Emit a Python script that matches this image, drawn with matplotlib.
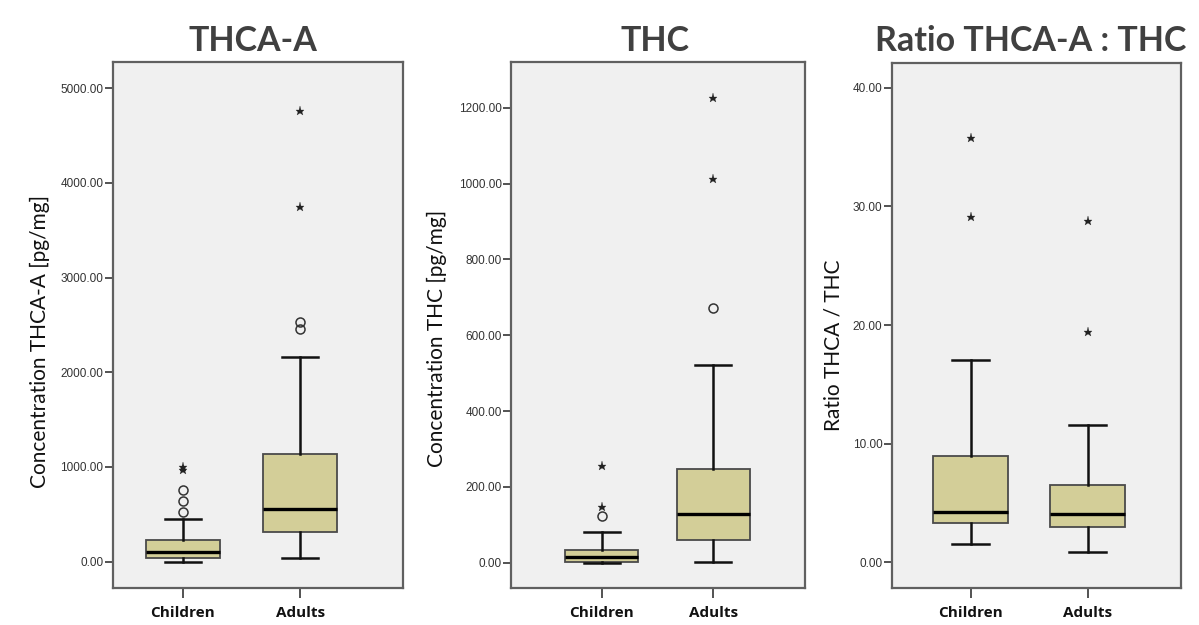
import matplotlib.pyplot as plt
from matplotlib.ticker import FormatStrFormatter

groups = ['Children', 'Adults']

# THCA-A [pg/mg]
thca_lo = [0, 43]
thca_q1 = [36, 314]
thca_med = [99, 556]
thca_q3 = [229, 1134]
thca_hi = [448, 2165]
thca_circles = [[528, 644, 757], [2454, 2535]]
thca_stars = [[965, 1003], [3746, 4760]]

# THC [pg/mg]
thc_lo = [0, 1]
thc_q1 = [1, 59]
thc_med = [14, 128]
thc_q3 = [34, 247]
thc_hi = [81, 522]
thc_circles = [[124], [671]]
thc_stars = [[146, 256], [1012, 1227]]

# Ratio THCA-A / THC
ratio_lo = [1.52, 0.9]
ratio_q1 = [3.29, 3.0]
ratio_med = [4.27, 4.1]
ratio_q3 = [8.94, 6.5]
ratio_hi = [17.07, 11.56]
ratio_circles = [[], []]
ratio_stars = [[29.1, 35.8], [19.4, 28.8]]

titles = ['THCA-A', 'THC', 'Ratio THCA-A : THC']
ylabels = ['Concentration THCA-A [pg/mg]', 'Concentration THC [pg/mg]', 'Ratio THCA / THC']

BOX = '#d3ce98'
BG = '#f0f0f0'

fig = plt.figure(figsize=(11.99, 6.25), dpi=100)

panels = [
    dict(pos=[0.0942, 0.0592, 0.2419, 0.8416], xlim=(0.403, 2.878), ylim=(-278, 5277),
         ticks=[0, 1000, 2000, 3000, 4000, 5000], width=0.63,
         d=(thca_lo, thca_q1, thca_med, thca_q3, thca_hi, thca_circles, thca_stars),
         title_x=253, ylab=(40, 341)),
    dict(pos=[0.4266, 0.0592, 0.2448, 0.8416], xlim=(0.192, 2.822), ylim=(-66.8, 1321),
         ticks=[0, 200, 400, 600, 800, 1000, 1200], width=0.654,
         d=(thc_lo, thc_q1, thc_med, thc_q3, thc_hi, thc_circles, thc_stars),
         title_x=655, ylab=(437, 338)),
    dict(pos=[0.7440, 0.0592, 0.2410, 0.8400], xlim=(0.328, 2.798), ylim=(-2.17, 42.1),
         ticks=[0, 10, 20, 30, 40], width=0.64,
         d=(ratio_lo, ratio_q1, ratio_med, ratio_q3, ratio_hi, ratio_circles, ratio_stars),
         title_x=1031, ylab=(833, 345)),
]

for i, p in enumerate(panels):
    ax = fig.add_axes(p['pos'])
    ax.set_facecolor(BG)
    lo, q1, med, q3, hi, circ, stars = p['d']
    stats = []
    for j, g in enumerate(groups):
        stats.append(dict(label=g, whislo=lo[j], q1=q1[j], med=med[j], q3=q3[j], whishi=hi[j]))
    ax.bxp(stats, positions=[1, 2], widths=p['width'], showfliers=False, patch_artist=True,
           boxprops=dict(facecolor=BOX, edgecolor='#4a4a4a', linewidth=1.3),
           medianprops=dict(color='black', linewidth=2.4),
           whiskerprops=dict(color='#111111', linewidth=1.8),
           capprops=dict(color='#111111', linewidth=1.8),
           capwidths=p['width'] * 0.49)
    for j in range(2):
        if circ[j]:
            ax.plot([j + 1] * len(circ[j]), circ[j], 'o', mfc='none', mec='#333333',
                    ms=6.5, mew=1.1, zorder=4)
        ax.plot([j + 1] * len(stars[j]), stars[j], '*', color='#222222', ms=6.5, mew=0.2, zorder=4)
    ax.set_xlim(*p['xlim'])
    ax.set_ylim(*p['ylim'])
    ax.set_yticks(p['ticks'])
    ax.yaxis.set_major_formatter(FormatStrFormatter('%.2f'))
    ax.set_xticks([1, 2])
    ax.set_xticklabels(groups, fontfamily='Open Sans', fontweight='bold', fontsize=11)
    ax.tick_params(axis='y', direction='out', length=6, width=1.3, color='#444444',
                   labelsize=8.5, labelcolor='#333333', pad=1)
    for t in ax.get_yticklabels():
        t.set_fontfamily('Liberation Sans')
    ax.tick_params(axis='x', direction='out', length=7, width=1.3, color='#444444',
                   labelcolor='#111111', pad=6)
    for s in ax.spines.values():
        s.set_color('#606060')
        s.set_linewidth(1.6)
    fig.text(p['title_x'] / 1199, 1 - 41 / 625, titles[i], ha='center', va='center',
             fontfamily='Lato', fontweight='bold', fontsize=24.5, color='#404040')
    fig.text(p['ylab'][0] / 1199, 1 - p['ylab'][1] / 625, ylabels[i], rotation=90,
             ha='center', va='center', fontfamily='Lato', fontsize=15, color='#111111')

fig.savefig('out.png', dpi=100, facecolor='white')
